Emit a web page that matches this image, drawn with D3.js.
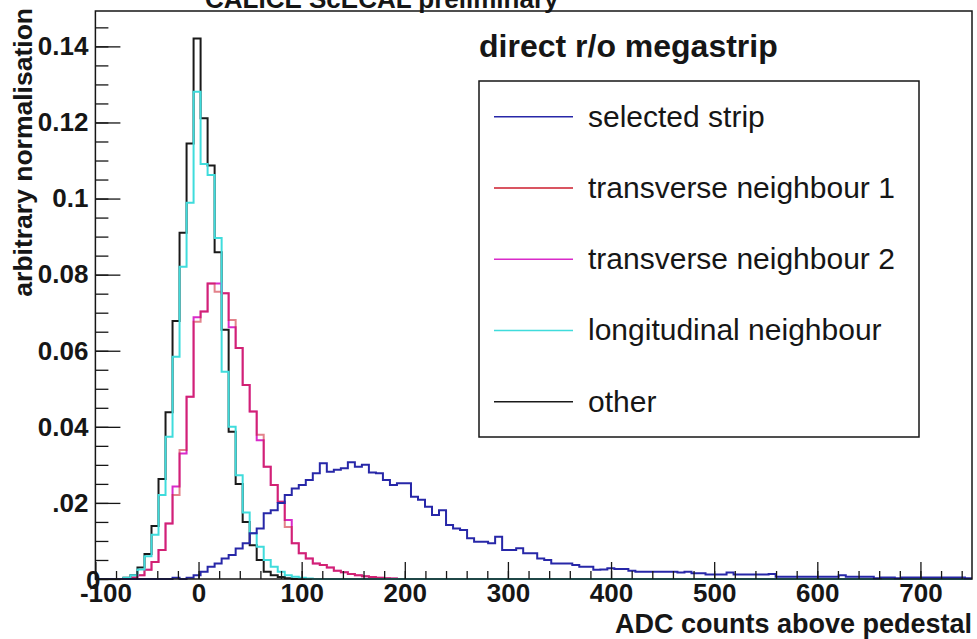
<!DOCTYPE html>
<html>
<head>
<meta charset="utf-8">
<script src="https://cdn.jsdelivr.net/npm/d3@7"></script>
<style>
  html, body { margin: 0; padding: 0; background: #fff; }
  svg { display: block; font-family: "Liberation Sans", Arial, Helvetica, sans-serif; }
</style>
</head>
<body>
<svg id="chart" width="977" height="639"></svg>
<script>
// Histogram binning: 125 bins of 6.8 ADC counts starting at -100
const binLow = -100;
const binWidth = 6.8;
const nBins = 125;

// Normalised bin contents, bin 0 first (bins past the end of a list are empty)
const selectedStrip = [
  0, 0, 0, 0, 0, 0, 0, 0, 0, 0,
  0, 0.0003, 0, 0.0003, 0.001, 0.0019, 0.0032, 0.0041, 0.0054, 0.0063,
  0.0080, 0.0094, 0.0120, 0.0133, 0.0173, 0.0181, 0.0200, 0.0221, 0.0238, 0.0247,
  0.0260, 0.0278, 0.0304, 0.0282, 0.0287, 0.0291, 0.0307, 0.0295, 0.0300, 0.0280,
  0.0278, 0.0260, 0.0247, 0.0252, 0.0252, 0.0216, 0.0208, 0.0190, 0.0168, 0.0181,
  0.0142, 0.0133, 0.0129, 0.0107, 0.0098, 0.0098, 0.0094, 0.0111, 0.0076, 0.0076,
  0.0081, 0.0068, 0.0068, 0.0054, 0.0050, 0.0041, 0.0041, 0.0041, 0.0037, 0.0032,
  0.0032, 0.0024, 0.0025, 0.0028, 0.0026, 0.0026, 0.0022, 0.0019, 0.0019, 0.0019,
  0.0019, 0.0019, 0.0019, 0.0017, 0.0019, 0.0015, 0.0015, 0.0012, 0.0012, 0.0012,
  0.0017, 0.0012, 0.0012, 0.0012, 0.0012, 0.0012, 0.0013, 0.0006, 0.0006, 0.0006,
  0.0006, 0.0006, 0.0006, 0.0006, 0.0006, 0.0006, 0.0010, 0.0006, 0.0006, 0.0006,
  0.0006, 0.0002, 0.0004, 0.0004, 0.0002, 0.0004, 0.0004, 0.0004, 0.0004, 0.0004,
  0.0004, 0.0004, 0.0004, 0.0004, 0.0002
];
const transverse1 = [
  0, 0, 0, 0, 0, 0.0003, 0.001, 0.0024, 0.0045, 0.0076,
  0.0146, 0.0221, 0.0339, 0.0479, 0.0676, 0.0703, 0.0777, 0.0755, 0.0751, 0.0681,
  0.0607, 0.0510, 0.0440, 0.0379, 0.0295, 0.0247, 0.0203, 0.0137, 0.0094, 0.0068,
  0.0054, 0.0041, 0.0037, 0.0030, 0.0022, 0.0018, 0.0013, 0.0010, 0.0007, 0.0005,
  0.0003, 0.0002, 0.0001
];
const transverse2 = [
  0, 0, 0, 0, 0, 0.0003, 0.001, 0.0024, 0.0045, 0.0076,
  0.0146, 0.0243, 0.0330, 0.0479, 0.0688, 0.0703, 0.0777, 0.0777, 0.0751, 0.0662,
  0.0607, 0.0510, 0.0440, 0.0365, 0.0295, 0.0247, 0.0203, 0.0155, 0.0094, 0.0068,
  0.0054, 0.0041, 0.0037, 0.0030, 0.0022, 0.0018, 0.0013, 0.0010, 0.0007, 0.0005,
  0.0003, 0.0002, 0.0001
];
const longitudinal = [
  0, 0, 0, 0, 0.0003, 0.001, 0.0025, 0.0060, 0.0116, 0.0221,
  0.0374, 0.0584, 0.0821, 0.0989, 0.1281, 0.1091, 0.1062, 0.0896, 0.0545, 0.0400,
  0.0273, 0.0175, 0.0120, 0.0085, 0.0050, 0.0032, 0.0019, 0.0010, 0.0006, 0.0003,
  0.0001
];
const other = [
  0, 0, 0, 0, 0.0003, 0.001, 0.0030, 0.0066, 0.0139, 0.0263,
  0.0438, 0.0678, 0.0910, 0.1145, 0.1421, 0.1211, 0.1087, 0.0859, 0.0655, 0.0387,
  0.0250, 0.0150, 0.0089, 0.0050, 0.0019, 0.0010, 0.0005, 0.0002
];

const legendLabels = ["selected strip", "transverse neighbour 1", "transverse neighbour 2",
                      "longitudinal neighbour", "other"];
const xMajorTicks = [-100, 0, 100, 200, 300, 400, 500, 600, 700];
const xTickLabels = ["-100", "0", "100", "200", "300", "400", "500", "600", "700"];
const yMajorTicks = [0, 0.02, 0.04, 0.06, 0.08, 0.10, 0.12, 0.14];
const yTickLabels = ["0", ".02", "0.04", "0.06", "0.08", "0.1", "0.12", "0.14"];

const svg = d3.select("#chart");
const ink = "#161616";
const frame = { left: 95.4, right: 972, top: 11, bottom: 579 };

const x = d3.scaleLinear().domain([-100, 750]).range([frame.left, frame.right]);
const y = d3.scaleLinear().domain([0, 0.1493]).range([frame.bottom, frame.top]);

// Title, partly above the canvas top
svg.append("text")
  .attr("x", 205).attr("y", 7.5)
  .attr("font-size", 26).attr("font-weight", "bold").attr("fill", ink)
  .text("CALICE ScECAL preliminary");

// Step outline of one histogram
function histPath(values) {
  const pts = [];
  for (let k = 0; k < nBins; k++) pts.push([binLow + k * binWidth, values[k] ?? 0]);
  pts.push([binLow + nBins * binWidth, values[nBins - 1] ?? 0]);
  return d3.line().x(d => x(d[0])).y(d => y(d[1])).curve(d3.curveStepAfter)(pts);
}

const series = [
  { values: other,         color: "#1a1a1a", opacity: 1 },
  { values: transverse2,   color: "#d92bc9", opacity: 1 },
  { values: transverse1,   color: "#cc1c2c", opacity: 0.55 },
  { values: longitudinal,  color: "#3fdcdc", opacity: 1 },
  { values: selectedStrip, color: "#2727a8", opacity: 1 }
];

const hist = svg.append("g");
series.forEach(s => {
  hist.append("path")
    .attr("d", histPath(s.values))
    .attr("fill", "none")
    .attr("stroke", s.color)
    .attr("stroke-opacity", s.opacity)
    .attr("stroke-width", 2);
});

// Axes: ticks point into the frame
const xMinor = svg.append("g").attr("transform", `translate(0,${frame.bottom})`)
  .call(d3.axisBottom(x).tickValues(d3.range(-100, 751, 20)).tickSize(-8).tickFormat(""));
const xMajor = svg.append("g").attr("transform", `translate(0,${frame.bottom})`)
  .call(d3.axisBottom(x).tickValues(xMajorTicks).tickSize(-17).tickPadding(5)
    .tickFormat((d, i) => xTickLabels[i]));
const yMinor = svg.append("g").attr("transform", `translate(${frame.left},0)`)
  .call(d3.axisLeft(y).tickValues(d3.range(0, 0.149, 0.005)).tickSize(-13).tickFormat(""));
const yMajor = svg.append("g").attr("transform", `translate(${frame.left},0)`)
  .call(d3.axisLeft(y).tickValues(yMajorTicks).tickSize(-25).tickPadding(7)
    .tickFormat((d, i) => yTickLabels[i]));

[xMinor, xMajor, yMinor, yMajor].forEach(g => {
  g.select(".domain").remove();
  g.selectAll(".tick line").attr("stroke", ink).attr("stroke-width", 1.3);
  g.selectAll(".tick text")
    .attr("fill", ink)
    .attr("font-size", 26)
    .attr("font-weight", "bold")
    .attr("font-family", "\"Liberation Sans\", Arial, Helvetica, sans-serif");
});

// The first x label sits a little right of its tick; the y zero label tucks in at the corner
xMajor.selectAll(".tick text").filter(d => d === -100).attr("x", 10);
yMajor.selectAll(".tick text").filter(d => d === 0).attr("x", 5).attr("dy", "0.38em");

// Frame
svg.append("rect")
  .attr("x", frame.left).attr("y", frame.top)
  .attr("width", frame.right - frame.left).attr("height", frame.bottom - frame.top)
  .attr("fill", "none").attr("stroke", ink).attr("stroke-width", 1.5);

// Axis titles
svg.append("text")
  .attr("x", frame.right).attr("y", 633)
  .attr("text-anchor", "end")
  .attr("font-size", 27).attr("font-weight", "bold").attr("fill", ink)
  .text("ADC counts above pedestal");
svg.append("text")
  .attr("transform", "translate(32,8) rotate(-90)")
  .attr("text-anchor", "end")
  .attr("font-size", 26.5).attr("font-weight", "bold").attr("fill", ink)
  .text("arbitrary normalisation");

// Legend
svg.append("text")
  .attr("x", 479).attr("y", 57)
  .attr("font-size", 32).attr("font-weight", "bold").attr("fill", ink)
  .text("direct r/o megastrip");

svg.append("rect")
  .attr("x", 479).attr("y", 81).attr("width", 440).attr("height", 356)
  .attr("fill", "#fff").attr("stroke", ink).attr("stroke-width", 1.5);

const legendColors = ["#2727a8", "#cc1c2c", "#d92bc9", "#3fdcdc", "#1a1a1a"];
const legendY = d3.scaleLinear().domain([0, 4]).range([116.7, 401.7]);
const legend = svg.append("g");
legendLabels.forEach((label, i) => {
  const ly = legendY(i);
  legend.append("line")
    .attr("x1", 494).attr("x2", 573).attr("y1", ly).attr("y2", ly)
    .attr("stroke", legendColors[i]).attr("stroke-width", 1.6);
  legend.append("text")
    .attr("x", 588).attr("y", ly + 10)
    .attr("font-size", 30).attr("fill", ink)
    .text(label);
});
</script>
</body>
</html>
